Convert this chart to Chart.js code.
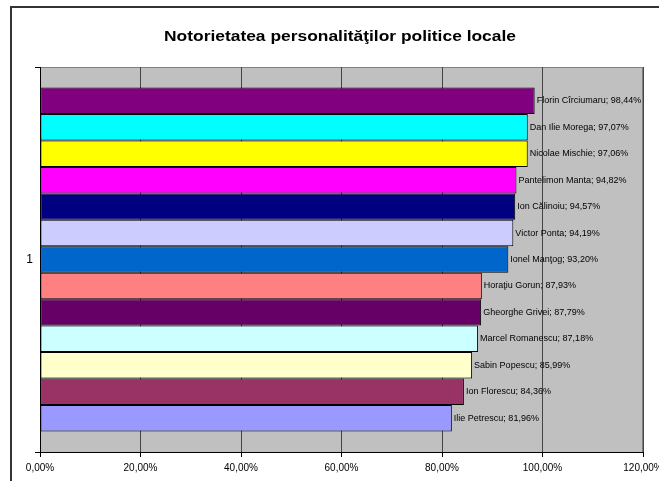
<!DOCTYPE html>
<html>
<head>
<meta charset="utf-8">
<script src="https://cdn.jsdelivr.net/npm/chart.js@4/dist/chart.umd.min.js"></script>
<style>
  html, body { margin: 0; padding: 0; background: #fff; }
  #wrap { width: 659px; height: 481px; }
</style>
</head>
<body>
<div id="wrap"><canvas id="bar-chart" width="659" height="481"></canvas></div>
<script>
// data
categories = ['1'];
names = ['Florin Cîrciumaru', 'Dan Ilie Morega', 'Nicolae Mischie', 'Pantelimon Manta',
  'Ion Călinoiu', 'Victor Ponta', 'Ionel Manţog', 'Horaţiu Gorun', 'Gheorghe Grivei',
  'Marcel Romanescu', 'Sabin Popescu', 'Ion Florescu', 'Ilie Petrescu'];
values = [98.44, 97.07, 97.06, 94.82, 94.57, 94.19, 93.20, 87.93, 87.79, 87.18, 85.99, 84.36, 81.96];
colors = ['#800080', '#00FFFF', '#FFFF00', '#FF00FF', '#000080', '#CCCCFF', '#0066CC',
  '#FF8080', '#660066', '#CCFFFF', '#FFFFCC', '#993366', '#9999FF'];
xTicks = [0, 20, 40, 60, 80, 100, 120];
title = 'Notorietatea personalităţilor politice locale';

function pct(v) { return v.toFixed(2).replace('.', ',') + '%'; }

datasets = [];
for (var i = 0; i < names.length; i++) {
  datasets.push({
    label: names[i],
    data: [values[i]],
    backgroundColor: colors[i],
    borderColor: '#000',
    borderWidth: 1,
    borderSkipped: false,
    categoryPercentage: 0.893,
    barPercentage: 1
  });
}

var excelLook = {
  id: 'excelLook',
  beforeDraw: function (chart) {
    var c = chart.ctx, a = chart.chartArea;
    c.save();
    // outer frame
    c.fillStyle = '#333';
    c.fillRect(10, 6, 2, 481);
    c.fillRect(10, 6, 659, 2);
    // title (reference is a bit stretched sideways)
    c.save();
    c.fillStyle = '#000';
    c.font = 'bold 15px "Liberation Sans", Arial, sans-serif';
    c.textAlign = 'center';
    c.textBaseline = 'alphabetic';
    c.translate(340, 41);
    c.scale(1.16, 1);
    c.fillText(title, 0, 0);
    c.restore();
    // plot area
    c.fillStyle = '#C0C0C0';
    c.fillRect(a.left, a.top, a.right - a.left, a.bottom - a.top);
    c.strokeStyle = '#808080';
    c.lineWidth = 1;
    c.strokeRect(a.left + 0.5, a.top + 0.5, a.right - a.left - 1, a.bottom - a.top);
    c.restore();
  },
  afterDatasetsDraw: function (chart) {
    var c = chart.ctx;
    c.save();
    c.fillStyle = '#000';
    c.font = '9px "Liberation Sans", Arial, sans-serif';
    c.textAlign = 'left';
    c.textBaseline = 'middle';
    chart.data.datasets.forEach(function (ds, i) {
      var bar = chart.getDatasetMeta(i).data[0];
      c.fillText(ds.label + '; ' + pct(ds.data[0]), bar.x + 2, bar.y);
    });
    c.restore();
  }
};

new Chart(document.getElementById('bar-chart'), {
  type: 'bar',
  data: { labels: categories, datasets: datasets },
  plugins: [excelLook],
  options: {
    indexAxis: 'y',
    responsive: false,
    animation: false,
    layout: { padding: { top: 67, right: 16, bottom: 0, left: 0 } },
    plugins: {
      legend: { display: false },
      title: { display: false },
      tooltip: { enabled: false }
    },
    scales: {
      x: {
        min: 0, max: 120,
        afterBuildTicks: function (s) { s.ticks = xTicks.map(function (v) { return { value: v }; }); },
        afterFit: function (s) { s.height = 29; s.paddingLeft = 0; s.paddingRight = 0; },
        grid: { color: '#444', tickColor: '#000', tickLength: 5 },
        border: { color: '#000' },
        ticks: {
          color: '#000', padding: 5, maxRotation: 0, autoSkip: false,
          font: { family: '"Liberation Sans", Arial, sans-serif', size: 10 },
          callback: function (v) { return pct(v); }
        }
      },
      y: {
        afterFit: function (s) { s.width = 40; s.paddingTop = 0; s.paddingBottom = 0; },
        grid: { offset: true, drawOnChartArea: false, color: '#000', tickLength: 5 },
        border: { color: '#000' },
        ticks: {
          color: '#000', padding: 2,
          font: { family: '"Liberation Sans", Arial, sans-serif', size: 12 }
        }
      }
    }
  }
});
</script>
</body>
</html>
